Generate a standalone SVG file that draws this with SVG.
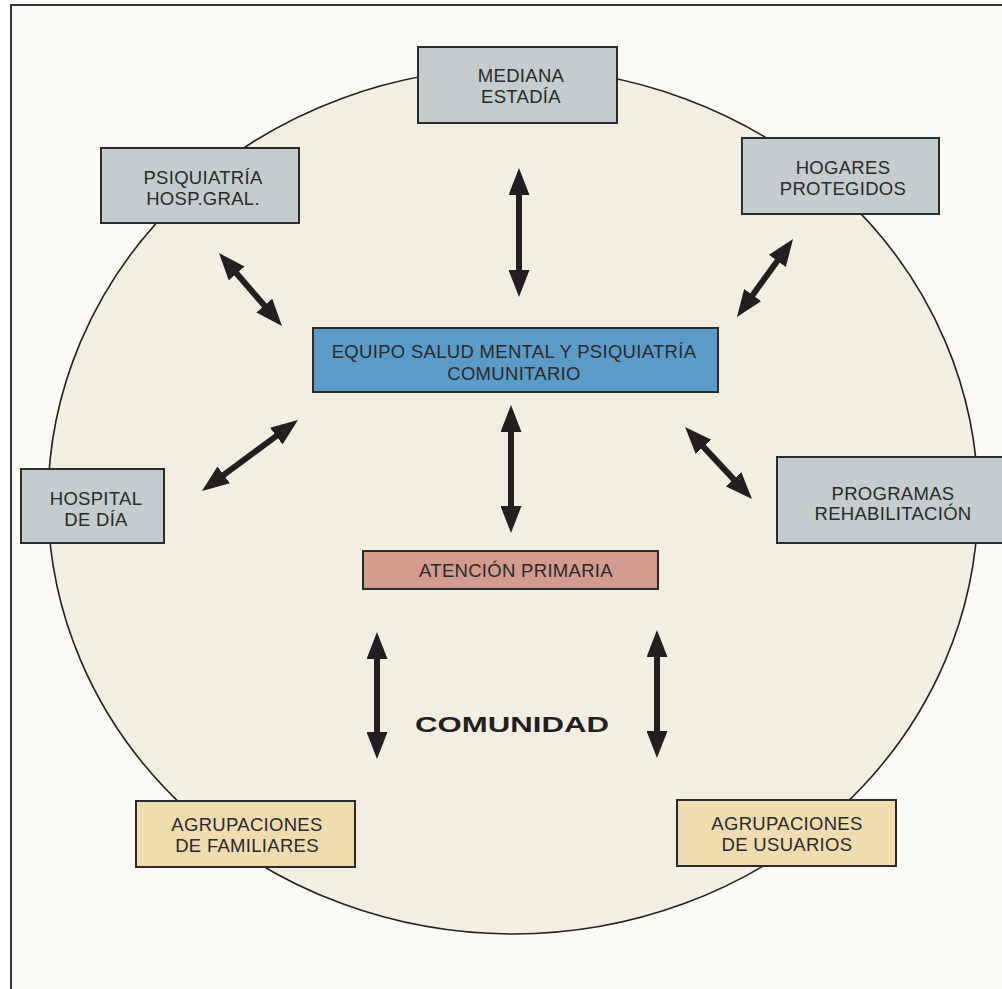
<svg xmlns="http://www.w3.org/2000/svg" width="1002" height="989" viewBox="0 0 1002 989">
<style>
.box{stroke:#2b2b2b;stroke-width:2}
.grey{fill:#c4cccd}
.t{font-family:"Liberation Sans",Arial,sans-serif;font-size:18.5px;letter-spacing:0.3px;fill:#2a2a2a;text-anchor:middle}
.big{font-family:"Liberation Sans",Arial,sans-serif;font-size:22px;font-weight:bold;fill:#231f20;text-anchor:middle}
.arr{stroke:#231f20;stroke-width:6;fill:none;marker-start:url(#ah);marker-end:url(#ah)}
</style>
<defs>
<marker id="ah" markerUnits="userSpaceOnUse" viewBox="0 0 27 21" markerWidth="27" markerHeight="21" refX="5" refY="10.5" orient="auto-start-reverse">
<path d="M0,0 L27,10.5 L0,21 z" fill="#231f20"/>
</marker>
</defs>
<rect x="0" y="0" width="1002" height="989" fill="#ffffff"/>
<rect x="11" y="5" width="1010" height="1000" fill="#fbfaf4" stroke="#333" stroke-width="2"/>
<ellipse id="comunidad-circle" cx="513" cy="501" rx="465" ry="433" fill="#f2efe2" stroke="#222" stroke-width="1.6"/>

<g id="connectors">
<line class="arr" x1="519" y1="190" x2="519" y2="275"/>
<line class="arr" x1="233.4" y1="269.7" x2="267.6" y2="309.3"/>
<line class="arr" x1="780.2" y1="256.9" x2="749.8" y2="299.1"/>
<line class="arr" x1="280.3" y1="433.1" x2="219.7" y2="477.9"/>
<line class="arr" x1="511" y1="427" x2="511" y2="511"/>
<line class="arr" x1="700" y1="443.1" x2="737" y2="482.9"/>
<line class="arr" x1="377" y1="654" x2="377" y2="737"/>
<line class="arr" x1="657" y1="652" x2="657" y2="736"/>
</g>

<g id="mediana">
<rect class="box grey" x="418" y="47" width="199" height="76"/>
<text class="t" x="521" y="82">MEDIANA</text>
<text class="t" x="521" y="103">ESTADÍA</text>
</g>
<g id="psiquiatria">
<rect class="box grey" x="101" y="148" width="198" height="75"/>
<text class="t" x="203" y="184">PSIQUIATRÍA</text>
<text class="t" x="203" y="205">HOSP.GRAL.</text>
</g>
<g id="hogares">
<rect class="box grey" x="742" y="138" width="197" height="76"/>
<text class="t" x="843" y="174">HOGARES</text>
<text class="t" x="843" y="195">PROTEGIDOS</text>
</g>
<g id="equipo">
<rect class="box" x="313" y="328" width="405" height="64" fill="#5b9bc6"/>
<text class="t" x="514" y="358">EQUIPO SALUD MENTAL Y PSIQUIATRÍA</text>
<text class="t" x="514" y="380">COMUNITARIO</text>
</g>
<g id="hospital-dia">
<rect class="box grey" x="21" y="469" width="143" height="74"/>
<text class="t" x="96" y="505">HOSPITAL</text>
<text class="t" x="96" y="526">DE DÍA</text>
</g>
<g id="programas">
<rect class="box grey" x="777" y="457" width="240" height="86"/>
<text class="t" x="893" y="500">PROGRAMAS</text>
<text class="t" x="893" y="520">REHABILITACIÓN</text>
</g>
<g id="atencion">
<rect class="box" x="363" y="551" width="295" height="38" fill="#d29b8e"/>
<text class="t" x="516" y="577">ATENCIÓN PRIMARIA</text>
</g>
<g id="comunidad">
<text class="big" x="512" y="732" textLength="194" lengthAdjust="spacingAndGlyphs">COMUNIDAD</text>
</g>
<g id="familiares">
<rect class="box" x="136" y="801" width="219" height="66" fill="#f0dcb0"/>
<text class="t" x="247" y="831">AGRUPACIONES</text>
<text class="t" x="247" y="852">DE FAMILIARES</text>
</g>
<g id="usuarios">
<rect class="box" x="677" y="800" width="219" height="66" fill="#f0dcb0"/>
<text class="t" x="787" y="830">AGRUPACIONES</text>
<text class="t" x="787" y="851">DE USUARIOS</text>
</g>
</svg>
